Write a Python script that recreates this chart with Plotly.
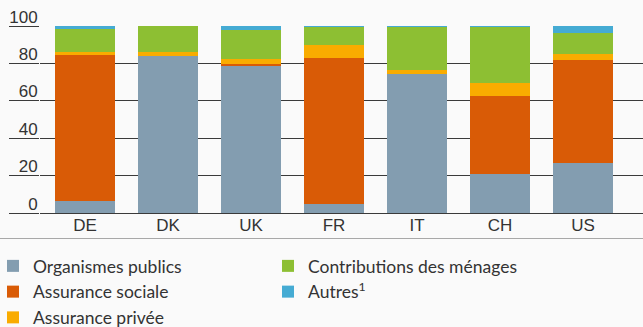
import plotly.graph_objects as go

# Health expenditure by source of financing, share of total (%)
countries = ["DE", "DK", "UK", "FR", "IT", "CH", "US"]
organismes_publics = [6.5, 84.0, 79.0, 5.0, 74.5, 21.0, 26.5]
assurance_sociale = [78.0, 0.0, 0.5, 78.0, 0.0, 41.5, 55.5]
assurance_privee = [1.5, 2.0, 3.0, 7.0, 2.0, 7.0, 3.0]
contributions_menages = [12.5, 14.0, 15.5, 9.7, 23.2, 30.0, 11.0]
autres = [1.5, 0.0, 2.0, 0.3, 0.3, 0.5, 4.0]
y_ticks = [0, 20, 40, 60, 80, 100]

series = [
    ("Organismes publics", organismes_publics, "#839db0", 1),
    ("Assurance sociale", assurance_sociale, "#d95b06", 3),
    ("Assurance privée", assurance_privee, "#f9ac00", 5),
    ("Contributions des ménages", contributions_menages, "#8dbf33", 2),
    ("Autres<sup>1</sup>", autres, "#45abd3", 4),
]

W, H = 643, 327
ML, MR, MT, MB = 40, 0, 26, 114
FONT = "Liberation Sans, Arial, Helvetica, sans-serif"
LEG_FONT = "Lato, Roboto, Liberation Sans, Arial, sans-serif"
TXT = "#333333"
GRID = "#3a3a3a"

fig = go.Figure()
for name, vals, color, rank in series:
    fig.add_trace(go.Bar(
        x=countries, y=vals, name=name, marker_color=color,
        marker_line_width=0, legendrank=rank,
    ))

# category spacing in px: 83, first bar centre 85 px from the left edge
step = 83.0
first_centre = 85.0
x_lo = (ML - first_centre) / step
x_hi = (W - MR - first_centre) / step

plot_h = H - MT - MB
plot_w = W - ML - MR

fig.update_layout(
    width=W, height=H,
    margin=dict(l=ML, r=MR, t=MT, b=MB, pad=0, autoexpand=False),
    barmode="stack", bargap=0.277,
    paper_bgcolor="#fafafa", plot_bgcolor="#fafafa",
    font=dict(family=FONT, size=17, color=TXT),
    xaxis=dict(
        range=[x_lo, x_hi], showgrid=False, showline=False, ticks="",
        tickfont=dict(size=17, color=TXT), fixedrange=True,
    ),
    yaxis=dict(
        range=[0, 100], tickvals=y_ticks, showgrid=True,
        gridcolor=GRID, gridwidth=1, zeroline=True, zerolinecolor=GRID,
        zerolinewidth=1, ticks="outside", ticklen=30, tickcolor=GRID,
        tickwidth=1, ticklabelposition="outside top",
        ticklabelstandoff=-2, ticklabelshift=3,
        tickfont=dict(size=17, color=TXT),
        showline=False,
    ),
    legend=dict(
        orientation="h", traceorder="normal",
        xref="paper", yref="paper",
        x=-(ML + 7) / plot_w, y=-(248 - (H - MB)) / plot_h,
        xanchor="left", yanchor="top",
        entrywidth=230, entrywidthmode="pixels",
        font=dict(family=LEG_FONT, size=17.5, color=TXT),
        bgcolor="rgba(0,0,0,0)",
        itemclick=False, itemdoubleclick=False,
    ),
    showlegend=True,
)

# thin rule under the category labels
rule_y = -(238.5 - (H - MB)) / plot_h
fig.add_shape(
    type="line", xref="paper", yref="paper",
    x0=-ML / plot_w, x1=1, y0=rule_y, y1=rule_y,
    line=dict(color="#a8a8a8", width=1),
)

fig.write_html("out.html")
